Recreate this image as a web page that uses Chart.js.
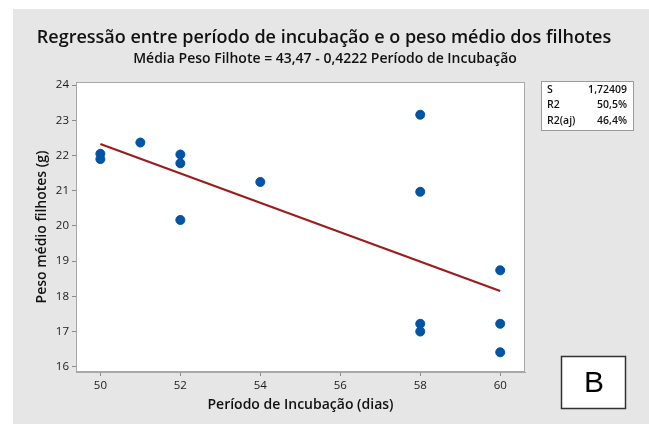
<!DOCTYPE html>
<html>
<head>
<meta charset="utf-8">
<script src="https://cdn.jsdelivr.net/npm/chart.js@4/dist/chart.umd.min.js"></script>
<style>
  body { margin: 0; background: #ffffff; }
  #wrap { width: 649px; height: 424px; position: relative; }
</style>
</head>
<body>
<div id="wrap"><canvas id="chart" width="649" height="424"></canvas></div>
<script>
// dados
const incubacao = [50, 50, 51, 52, 52, 52, 54, 58, 58, 58, 58, 60, 60, 60]
const pesoMedio = [22.05, 21.9, 22.37, 22.03, 21.78, 20.17, 21.25, 23.16, 20.97, 17.22, 17.0, 18.74, 17.22, 16.41]
const retaX = [50, 60]
const retaY = [22.33, 18.15]
const xTicks = [50, 52, 54, 56, 58, 60]
const yTicks = [16, 17, 18, 19, 20, 21, 22, 23, 24]
const statsLabels = ["S", "R2", "R2(aj)"]
const statsValues = ["1,72409", "50,5%", "46,4%"]

const fontFamily = "'Open Sans', 'Noto Sans', sans-serif"

// fundo cinza, área branca, textos extras
const decorPlugin = {
    id: 'decor',
    beforeDraw(chart) {
        const ctx = chart.ctx
        const a = chart.chartArea
        ctx.save()
        ctx.fillStyle = '#ffffff'
        ctx.fillRect(0, 0, chart.width, chart.height)
        ctx.fillStyle = '#e6e6e6'
        ctx.fillRect(13, 9, chart.width - 13, chart.height - 9)
        ctx.fillStyle = '#ffffff'
        ctx.fillRect(a.left, a.top, a.right - a.left, a.bottom - a.top)
        ctx.restore()
    },
    afterDraw(chart) {
        const ctx = chart.ctx
        const a = chart.chartArea
        ctx.save()
        ctx.strokeStyle = '#a8a8a8'
        ctx.lineWidth = 1
        ctx.strokeRect(a.left + 0.5, a.top + 0.5, a.right - a.left - 1, a.bottom - a.top - 1)

        // títulos
        ctx.fillStyle = '#111111'
        ctx.textAlign = 'center'
        ctx.textBaseline = 'middle'
        ctx.font = "600 18px " + fontFamily
        ctx.fillText("Regressão entre período de incubação e o peso médio dos filhotes", 324, 38)
        ctx.font = "600 14px " + fontFamily
        ctx.fillText("Média Peso Filhote = 43,47 - 0,4222 Período de Incubação", 325, 59)

        // caixa de estatísticas
        ctx.fillStyle = '#ffffff'
        ctx.fillRect(541, 81, 92, 49)
        ctx.strokeStyle = '#9a9a9a'
        ctx.strokeRect(541.5, 81.5, 92, 49)
        ctx.fillStyle = '#111111'
        ctx.font = "600 10.5px " + fontFamily
        for (let i = 0; i < statsLabels.length; i++) {
            let y = 90 + i * 15.5
            ctx.textAlign = 'left'
            ctx.fillText(statsLabels[i], 547, y)
            ctx.textAlign = 'right'
            ctx.fillText(statsValues[i], 627, y)
        }

        // caixa B
        ctx.fillStyle = '#ffffff'
        ctx.fillRect(561, 356, 65, 53)
        ctx.strokeStyle = '#333333'
        ctx.lineWidth = 1.5
        ctx.strokeRect(561.5, 356.5, 64, 52)
        ctx.fillStyle = '#000000'
        ctx.textAlign = 'center'
        ctx.font = "30px 'Liberation Sans', Arial, sans-serif"
        ctx.fillText("B", 594, 384)
        ctx.restore()
    }
}

const pontos = incubacao.map((x, i) => ({x: x, y: pesoMedio[i]}))
const reta = retaX.map((x, i) => ({x: x, y: retaY[i]}))

const config = {
    type: 'scatter',
    data: {
        datasets: [{
            label: 'Peso médio',
            data: pontos,
            backgroundColor: '#0054a6',
            borderColor: '#0054a6',
            pointRadius: 4.5,
            pointHoverRadius: 4.5,
            order: 1
        }, {
            type: 'line',
            label: 'Regressão',
            data: reta,
            borderColor: '#9e1b1b',
            borderWidth: 2.2,
            pointRadius: 0,
            fill: false,
            order: 2
        }]
    },
    options: {
        responsive: false,
        animation: false,
        layout: { padding: { left: 20, top: 82, right: 124, bottom: 0 } },
        plugins: {
            legend: { display: false },
            tooltip: { enabled: false },
            title: { display: false }
        },
        scales: {
            x: {
                type: 'linear',
                min: 49.39,
                max: 60.62,
                afterBuildTicks: (scale) => { scale.ticks = xTicks.map(v => ({value: v})) },
                afterFit: (scale) => { scale.height = 52 },
                grid: { drawOnChartArea: false, tickLength: 4, color: '#8a8a8a' },
                border: { color: '#a8a8a8' },
                ticks: {
                    padding: 3,
                    color: '#1a1a1a',
                    font: { family: fontFamily, size: 11.5 },
                    maxRotation: 0
                },
                title: {
                    display: true,
                    text: 'Período de Incubação (dias)',
                    color: '#111111',
                    font: { family: fontFamily, size: 14, weight: '600' },
                    padding: { top: 0, bottom: 11 }
                }
            },
            y: {
                type: 'linear',
                min: 15.85,
                max: 24.09,
                afterBuildTicks: (scale) => { scale.ticks = yTicks.map(v => ({value: v})) },
                afterFit: (scale) => { scale.width = 56 },
                grid: { drawOnChartArea: false, tickLength: 4, color: '#8a8a8a' },
                border: { color: '#a8a8a8' },
                ticks: {
                    padding: 3,
                    color: '#1a1a1a',
                    font: { family: fontFamily, size: 11.5 }
                },
                title: {
                    display: true,
                    text: 'Peso médio filhotes (g)',
                    color: '#111111',
                    font: { family: fontFamily, size: 14, weight: '600' },
                    padding: { top: 14, bottom: 0 }
                }
            }
        }
    },
    plugins: [decorPlugin]
}

const myChart = new Chart(document.getElementById('chart'), config)
</script>
</body>
</html>
